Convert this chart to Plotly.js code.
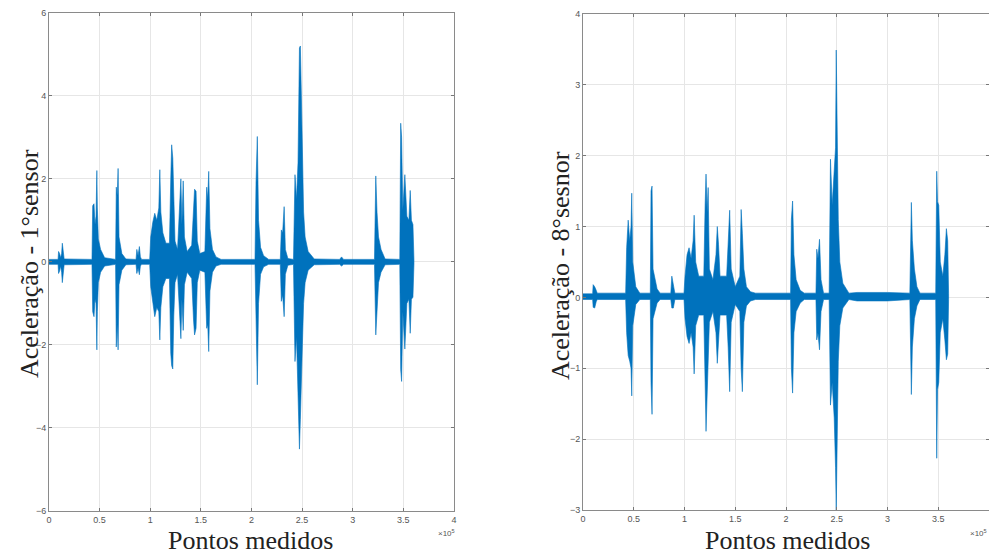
<!DOCTYPE html>
<html>
<head>
<meta charset="utf-8">
<script src="https://cdn.plot.ly/plotly-3.0.1.min.js"></script>
<style>html,body{margin:0;padding:0;background:#fff;}#chart{width:989px;height:556px;}</style>
</head>
<body>
<div id="chart"></div>
<script>
// ---- Envelope of the 1st sensor signal (sample index, upper value, lower value) ----
const sensor1X = [
  0, 9000,
  9500, 10500, 11500, 12500, 13200, 14000, 15000,
  42500,
  43200, 44500, 45500, 46500, 47300, 47800, 48800, 51000, 55000,
  65800,
  66500, 67500, 68300, 69200, 72000, 76000,
  86000,
  86800, 88000, 89300, 90300, 91500,
  99500,
  100500, 102500, 104500, 106500, 108500, 109500, 110500, 112500, 115500, 119000,
  120300, 121200, 122300, 123300, 124500, 127000,
  129500, 130300, 131300, 132600, 133800, 136500,
  141000, 142800, 143800, 145300, 146500, 149000,
  154000, 155800, 156800, 157800, 159000, 161500, 165000, 170000,
  203500,
  204500, 205800, 207000, 209000, 212000, 217000,
  228500,
  229500, 230800, 232300, 233500, 236000,
  241500,
  243000, 244500, 246000, 247400, 248300, 249300, 250300, 251500, 253000, 256000, 262000,
  287000, 289000, 291000,
  321500, 322800, 324000, 325500, 328000, 332000,
  346500, 347400, 348300, 349500, 351500, 353500, 355500, 356800, 358000, 359500, 360500
];
const sensor1Top = [
  0.06, 0.06,
  0.25, 0.2, 0.1, 0.2, 0.45, 0.3, 0.07,
  0.06,
  1.35, 1.4, 0.9, 1.1, 2.2, 1.3, 0.55, 0.3, 0.1,
  0.06,
  1.8, 1.6, 2.25, 0.6, 0.2, 0.07,
  0.06,
  0.3, 0.15, 0.37, 0.12, 0.06,
  0.06,
  0.6, 0.95, 1.17, 1.0, 1.3, 2.22, 1.2, 0.7, 0.45, 0.45,
  2.0, 2.82, 2.5, 1.3, 0.5, 0.3,
  1.6, 2.0, 0.9, 1.95, 0.6, 0.25,
  0.4, 1.5, 1.75, 1.7, 0.5, 0.2,
  0.25, 1.8, 1.5, 2.18, 0.8, 0.3, 0.12, 0.06,
  0.06,
  1.9, 3.02, 1.0, 0.35, 0.15, 0.06,
  0.06,
  0.77, 0.7, 1.33, 0.3, 0.08,
  0.06,
  2.1, 1.5, 2.4, 5.15, 5.2, 4.0, 2.4, 1.2, 0.6, 0.25, 0.07,
  0.06, 0.12, 0.06,
  0.06, 2.07, 1.2, 0.6, 0.3, 0.07,
  0.06, 3.34, 3.0, 1.25, 2.1, 1.1, 1.0, 1.72, 1.0, 0.9, 0.05
];
const sensor1Bot = [
  -0.06, -0.06,
  -0.28, -0.22, -0.1, -0.25, -0.5, -0.3, -0.07,
  -0.06,
  -1.2, -1.32, -0.9, -1.0, -2.12, -1.2, -0.5, -0.25, -0.1,
  -0.06,
  -2.05, -1.5, -2.12, -0.55, -0.2, -0.07,
  -0.06,
  -0.28, -0.15, -0.31, -0.1, -0.06,
  -0.06,
  -0.6, -1.0, -1.32, -1.1, -1.2, -1.88, -1.1, -0.6, -0.4, -0.4,
  -2.2, -2.5, -2.58, -1.3, -0.5, -0.3,
  -1.5, -1.85, -0.9, -1.65, -0.55, -0.25,
  -0.4, -1.4, -1.76, -1.6, -0.5, -0.2,
  -0.25, -1.6, -1.5, -2.16, -0.7, -0.25, -0.1, -0.06,
  -0.06,
  -1.7, -2.96, -1.0, -0.3, -0.12, -0.06,
  -0.06,
  -0.95, -0.8, -1.32, -0.3, -0.08,
  -0.06,
  -2.4, -1.8, -3.0, -4.51, -3.8, -3.2, -2.0, -1.0, -0.5, -0.2, -0.07,
  -0.06, -0.1, -0.06,
  -0.06, -1.76, -1.3, -0.5, -0.25, -0.07,
  -0.06, -2.6, -2.88, -1.2, -2.1, -1.0, -0.9, -1.72, -0.9, -0.85, -0.05
];

// ---- Envelope of the 8th sensor signal ----
const sensor8X = [
  0, 9500,
  10000, 11500, 13000, 14000,
  42000,
  43000, 44500, 46000, 47300, 48000, 49000, 52000, 56000,
  66300,
  67000, 68000, 69000, 73000, 76000,
  86500,
  87500, 89000, 90500,
  99500,
  100500, 102500, 104500, 106500, 108500, 109500, 111000, 114000, 119000,
  120300, 121200, 122300, 123300, 124500, 128000,
  131000, 132300, 133500, 135000,
  141500, 143000, 144500, 146000, 150000,
  154500, 155800, 157000, 158500, 161000, 165000, 170000,
  204500,
  205300, 206500, 207800, 210000, 214000, 218000,
  229500,
  230300, 231500, 233000, 234500, 237000,
  242500,
  243800, 245500, 247500, 248800, 249500, 250300, 251500, 253000, 256000, 262000,
  270000, 300000, 322000,
  323500, 324500, 326500, 329000, 332000,
  347500,
  348500, 349300, 350500, 352000, 354500, 356500, 358000, 359300, 360200
];
const sensor8Top = [
  0.05, 0.05,
  0.18, 0.15, 0.1, 0.06,
  0.06,
  0.7, 1.09, 0.8, 1.0, 1.47, 0.5, 0.15, 0.06,
  0.06,
  1.5, 1.57, 0.4, 0.12, 0.06,
  0.06,
  0.3, 0.15, 0.06,
  0.06,
  0.3, 0.6, 0.7, 0.55, 0.8, 1.16, 0.5, 0.3, 0.3,
  1.3, 1.74, 1.2, 1.55, 0.4, 0.25,
  0.6, 1.0, 0.75, 0.3,
  0.3, 0.8, 1.23, 0.4, 0.15,
  0.3, 1.24, 0.9, 0.4, 0.15, 0.08, 0.06,
  0.06,
  1.1, 1.36, 0.6, 0.25, 0.1, 0.06,
  0.06,
  0.68, 0.55, 0.82, 0.25, 0.06,
  0.06,
  1.95, 1.3, 1.8, 2.11, 3.49, 2.0, 1.1, 0.5, 0.2, 0.06,
  0.07, 0.07, 0.06,
  1.34, 0.8, 0.4, 0.15, 0.06,
  0.06,
  1.78, 1.35, 1.3, 0.5, 0.3, 0.6, 0.97, 0.8, 0.05
];
const sensor8Bot = [
  -0.03, -0.03,
  -0.14, -0.15, -0.06, -0.03,
  -0.03,
  -0.5, -0.82, -0.9, -1.0, -1.39, -0.4, -0.1, -0.03,
  -0.03,
  -1.2, -1.65, -0.3, -0.08, -0.03,
  -0.03,
  -0.15, -0.15, -0.03,
  -0.03,
  -0.3, -0.55, -0.65, -0.5, -0.7, -1.08, -0.4, -0.25, -0.25,
  -1.2, -1.89, -1.3, -1.0, -0.35, -0.2,
  -0.5, -0.93, -0.7, -0.25,
  -0.25, -0.7, -1.33, -0.35, -0.1,
  -0.2, -1.0, -1.33, -0.35, -0.12, -0.05, -0.03,
  -0.03,
  -1.0, -1.35, -0.5, -0.2, -0.08, -0.03,
  -0.03,
  -0.6, -0.5, -0.74, -0.2, -0.03,
  -0.03,
  -1.52, -1.2, -1.7, -2.4, -3.0, -2.0, -0.9, -0.4, -0.15, -0.03,
  -0.05, -0.05, -0.03,
  -1.37, -0.7, -0.3, -0.12, -0.03,
  -0.03,
  -2.27, -1.3, -1.2, -0.5, -0.3, -0.6, -0.88, -0.8, -0.03
];

// ---- Axis ticks ----
const xTickVals = [0, 50000, 100000, 150000, 200000, 250000, 300000, 350000, 400000];
const xTickText = ['0', '0.5', '1', '1.5', '2', '2.5', '3', '3.5', '4'];
const y1TickVals = [-6, -4, -2, 0, 2, 4, 6];
const y2TickVals = [-3, -2, -1, 0, 1, 2, 3, 4];

const yTitle1 = 'Aceleração - 1°sensor';
const yTitle2 = 'Aceleração - 8°sesnor';
const xTitle = 'Pontos medidos';

const blue = '#0072BD';

function envelope(xs, top, bot, xa, ya) {
  return {
    x: xs.concat(xs.slice().reverse()),
    y: top.concat(bot.slice().reverse()),
    xaxis: xa, yaxis: ya,
    mode: 'lines', fill: 'toself', fillcolor: blue,
    line: {color: blue, width: 0.6},
    hoverinfo: 'skip', showlegend: false
  };
}

const data = [
  envelope(sensor1X, sensor1Top, sensor1Bot, 'x', 'y'),
  envelope(sensor8X, sensor8Top, sensor8Bot, 'x2', 'y2')
];

const tickFont = {family: 'Liberation Sans, Arial, sans-serif', size: 9, color: '#555'};
function xAxis(domain, anchor) {
  return {
    domain: domain, anchor: anchor, range: [0, 400000],
    tickvals: xTickVals, ticktext: xTickText,
    ticks: 'inside', ticklen: 3, tickcolor: '#777',
    showline: true, linecolor: '#8a8a8a', linewidth: 1, mirror: 'ticks',
    showgrid: true, gridcolor: '#e6e6e6', zeroline: false,
    tickfont: tickFont, fixedrange: true
  };
}
function yAxis(domain, anchor, range, vals) {
  return {
    domain: domain, anchor: anchor, range: range,
    tickvals: vals,
    ticks: 'inside', ticklen: 3, tickcolor: '#777',
    showline: true, linecolor: '#8a8a8a', linewidth: 1, mirror: 'ticks',
    showgrid: true, gridcolor: '#e6e6e6', zeroline: false,
    tickfont: tickFont, fixedrange: true
  };
}

const serif = {family: 'Liberation Serif, Times New Roman, serif', size: 26, color: '#222'};
const small = {family: 'Liberation Sans, Arial, sans-serif', size: 8, color: '#555'};
const layout = {
  width: 989, height: 556,
  margin: {l: 0, r: 0, t: 0, b: 0},
  paper_bgcolor: '#fff', plot_bgcolor: '#fff',
  showlegend: false,
  xaxis: xAxis([0.0495, 0.459], 'y'),
  yaxis: yAxis([0.081, 0.977], 'x', [-6, 6], y1TickVals),
  xaxis2: xAxis([0.5895, 1.0], 'y2'),
  yaxis2: yAxis([0.0827, 0.975], 'x2', [-3, 4], y2TickVals),
  annotations: [
    {text: yTitle1, textangle: -90, xref: 'paper', yref: 'paper', x: 30/989, y: 1 - 264/556,
     showarrow: false, font: serif, xanchor: 'center', yanchor: 'middle'},
    {text: yTitle2, textangle: -90, xref: 'paper', yref: 'paper', x: 560/989, y: 1 - 266/556,
     showarrow: false, font: serif, xanchor: 'center', yanchor: 'middle'},
    {text: xTitle, xref: 'paper', yref: 'paper', x: 251/989, y: 1 - 540/556,
     showarrow: false, font: serif, xanchor: 'center', yanchor: 'middle'},
    {text: xTitle, xref: 'paper', yref: 'paper', x: 787/989, y: 1 - 540/556,
     showarrow: false, font: serif, xanchor: 'center', yanchor: 'middle'},
    {text: '×10<sup>5</sup>', xref: 'paper', yref: 'paper', x: 446/989, y: 1 - 533/556,
     showarrow: false, font: small, xanchor: 'center', yanchor: 'middle'},
    {text: '×10<sup>5</sup>', xref: 'paper', yref: 'paper', x: 978/989, y: 1 - 533/556,
     showarrow: false, font: small, xanchor: 'center', yanchor: 'middle'}
  ]
};

Plotly.newPlot('chart', data, layout, {displayModeBar: false, staticPlot: true});
</script>
</body>
</html>
